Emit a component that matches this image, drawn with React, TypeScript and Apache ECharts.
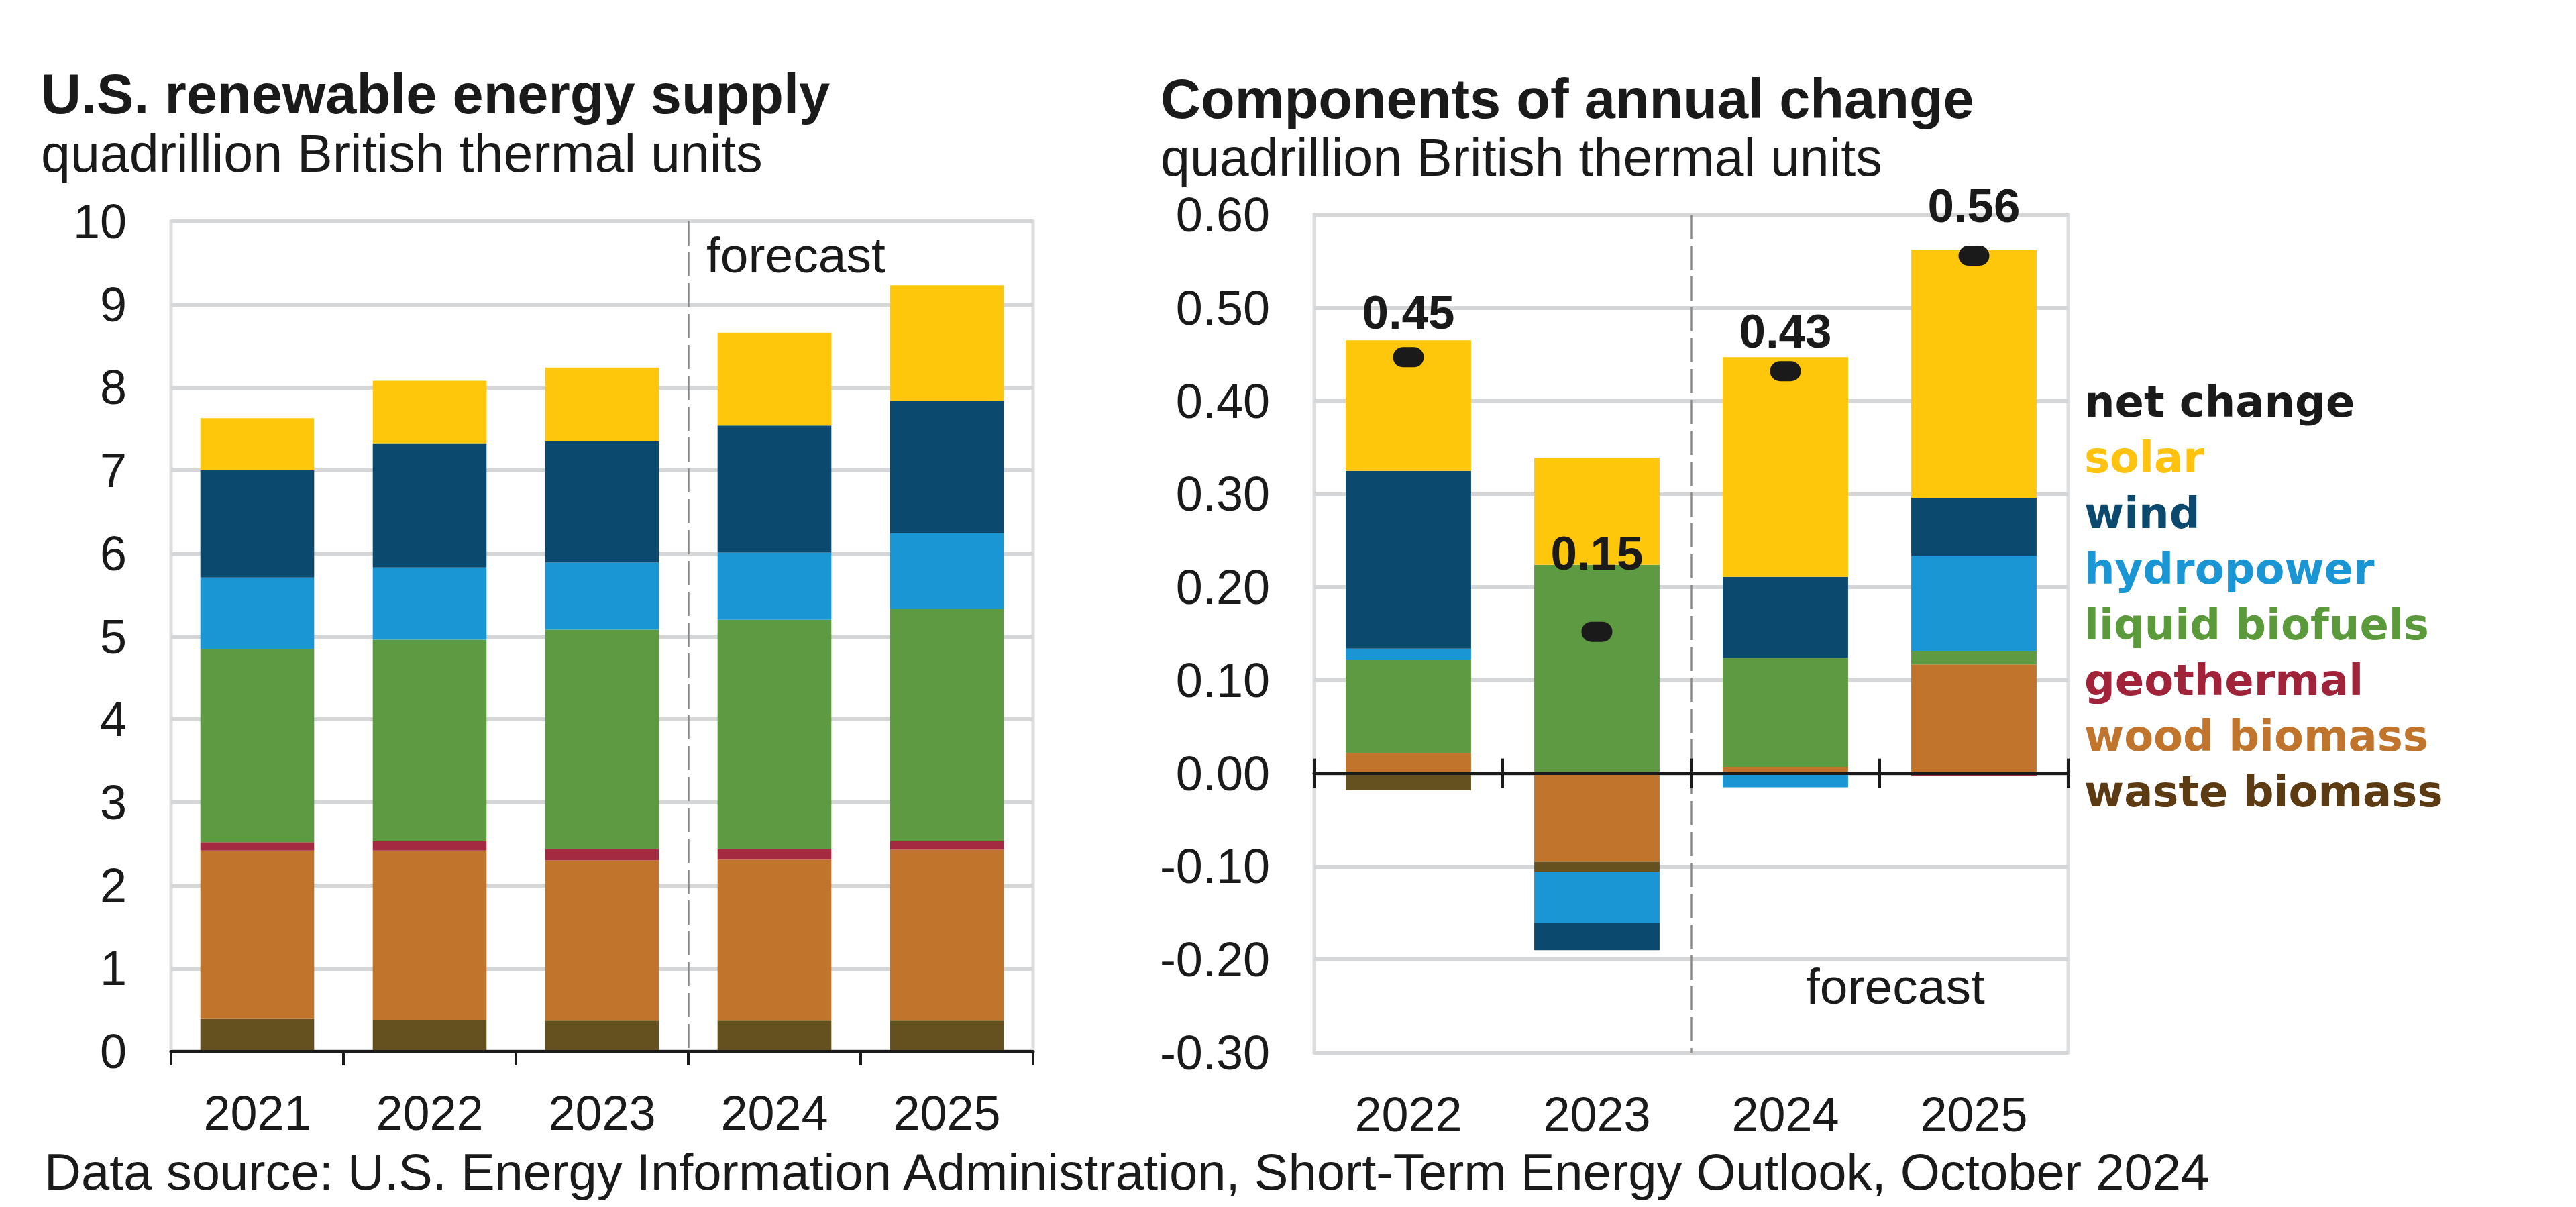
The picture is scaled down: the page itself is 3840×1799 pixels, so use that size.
import React, { useEffect, useRef } from "react";
import * as echarts from "echarts";

// ---------- data ----------
const supplyYears = ["2021", "2022", "2023", "2024", "2025"];
const changeYears = ["2022", "2023", "2024", "2025"];

// U.S. renewable energy supply (quadrillion Btu), stacked bottom -> top
const supplyWaste = [0.39, 0.38, 0.37, 0.37, 0.37];
const supplyWood = [2.03, 2.04, 1.93, 1.94, 2.06];
const supplyGeothermal = [0.1, 0.11, 0.14, 0.13, 0.1];
const supplyBiofuels = [2.33, 2.43, 2.64, 2.76, 2.8];
const supplyHydro = [0.86, 0.87, 0.81, 0.81, 0.91];
const supplyWind = [1.29, 1.49, 1.46, 1.53, 1.6];
const supplySolar = [0.63, 0.76, 0.89, 1.12, 1.39];

// Components of annual change (quadrillion Btu)
const changeWood = [0.022, -0.095, 0.007, 0.117];
const changeWaste = [-0.018, -0.011, 0.0, 0.0];
const changeGeothermal = [0.0, 0.0, 0.0, -0.003];
const changeBiofuels = [0.1, 0.224, 0.117, 0.014];
const changeHydro = [0.012, -0.055, -0.015, 0.103];
const changeWind = [0.191, -0.029, 0.087, 0.062];
const changeSolar = [0.14, 0.115, 0.236, 0.266];
const netChange = [0.447, 0.152, 0.432, 0.556];

// axis ticks
const supplyAxisMin = 0;
const supplyAxisMax = 10;
const supplyAxisStep = 1;
const changeAxisMin = -0.3;
const changeAxisMax = 0.6;
const changeAxisStep = 0.1;

const legendNames = [
  "net change",
  "solar",
  "wind",
  "hydropower",
  "liquid biofuels",
  "geothermal",
  "wood biomass",
  "waste biomass",
];

// ---------- styles ----------
const FONT = "'Liberation Sans', Arial, Helvetica, sans-serif";
const LEGEND_FONT = "'DejaVu Sans', Verdana, sans-serif";
const BAR_COLORS: Record<string, string> = {
  solar: "#FFC70B",
  wind: "#0B4A6E",
  hydropower: "#1A96D4",
  "liquid biofuels": "#5E9A41",
  geothermal: "#A32A40",
  "wood biomass": "#C0742C",
  "waste biomass": "#65501F",
};
const LEGEND_COLORS: Record<string, string> = {
  "net change": "#1a1a1a",
  solar: "#FFC20E",
  wind: "#0B4A6E",
  hydropower: "#1A96D4",
  "liquid biofuels": "#5A9A3A",
  geothermal: "#A0233A",
  "wood biomass": "#C0742C",
  "waste biomass": "#5C3A12",
};
const GRID_GRAY = "#D4D6D8";
const BORDER_GRAY = "#DCDEE0";
const AXIS_BLACK = "#1a1a1a";

export default function App() {
  const ref = useRef<HTMLDivElement>(null);

  useEffect(() => {
    document.body.style.margin = "0";
    if (!ref.current) return;
    const chart = echarts.init(ref.current, undefined, { renderer: "svg" });

    const leftSeries: [string, number[]][] = [
      ["waste biomass", supplyWaste],
      ["wood biomass", supplyWood],
      ["geothermal", supplyGeothermal],
      ["liquid biofuels", supplyBiofuels],
      ["hydropower", supplyHydro],
      ["wind", supplyWind],
      ["solar", supplySolar],
    ];
    const rightSeries: [string, number[]][] = [
      ["wood biomass", changeWood],
      ["waste biomass", changeWaste],
      ["geothermal", changeGeothermal],
      ["liquid biofuels", changeBiofuels],
      ["hydropower", changeHydro],
      ["wind", changeWind],
      ["solar", changeSolar],
    ];

    const axisLabelStyle = { fontFamily: FONT, fontSize: 72, color: "#1a1a1a" };
    const dividerStyle = { color: "#8a8a8a", width: 2.5, type: [36, 10] as any };

    const option: any = {
      animation: false,
      backgroundColor: "#ffffff",
      textStyle: { fontFamily: FONT },
      grid: [
        { left: 255, top: 330, width: 1285, height: 1237, show: true, borderColor: BORDER_GRAY, borderWidth: 5, backgroundColor: "transparent" },
        { left: 1959, top: 320, width: 1124, height: 1249, show: true, borderColor: BORDER_GRAY, borderWidth: 5, backgroundColor: "transparent" },
      ],
      xAxis: [
        {
          type: "category", gridIndex: 0, data: supplyYears, position: "bottom", z: 10,
          axisLine: { show: true, onZero: false, lineStyle: { color: AXIS_BLACK, width: 5 } },
          axisTick: { show: true, length: 21, lineStyle: { color: AXIS_BLACK, width: 4 } },
          axisLabel: { ...axisLabelStyle, margin: 56 },
          splitLine: { show: false },
        },
        {
          type: "value", gridIndex: 0, min: 0, max: supplyYears.length, interval: 3, position: "top",
          axisLine: { show: false }, axisTick: { show: false }, axisLabel: { show: false },
          splitLine: { show: true, showMinLine: false, showMaxLine: false, lineStyle: dividerStyle },
        },
        {
          type: "category", gridIndex: 1, data: changeYears, position: "bottom",
          axisLine: { show: false, onZero: false }, axisTick: { show: false },
          axisLabel: { ...axisLabelStyle, margin: 56 },
          splitLine: { show: false },
        },
        {
          type: "category", gridIndex: 1, data: changeYears, position: "bottom", z: 10,
          axisLine: { show: true, onZero: true, onZeroAxisIndex: 1, lineStyle: { color: AXIS_BLACK, width: 5 } },
          axisTick: { show: true, inside: false, length: 22, lineStyle: { color: AXIS_BLACK, width: 4 } },
          axisLabel: { show: false }, splitLine: { show: false },
        },
        {
          type: "category", gridIndex: 1, data: changeYears, position: "bottom", z: 10,
          axisLine: { show: false, onZero: true, onZeroAxisIndex: 1 },
          axisTick: { show: true, inside: true, length: 22, lineStyle: { color: AXIS_BLACK, width: 4 } },
          axisLabel: { show: false }, splitLine: { show: false },
        },
        {
          type: "value", gridIndex: 1, min: 0, max: changeYears.length, interval: 2, position: "top",
          axisLine: { show: false }, axisTick: { show: false }, axisLabel: { show: false },
          splitLine: { show: true, showMinLine: false, showMaxLine: false, lineStyle: dividerStyle },
        },
      ],
      yAxis: [
        {
          type: "value", gridIndex: 0, min: supplyAxisMin, max: supplyAxisMax, interval: supplyAxisStep,
          axisLine: { show: false }, axisTick: { show: false },
          axisLabel: { ...axisLabelStyle, margin: 66 },
          splitLine: { show: true, lineStyle: { color: GRID_GRAY, width: 6 } },
        },
        {
          type: "value", gridIndex: 1, min: changeAxisMin, max: changeAxisMax, interval: changeAxisStep,
          axisLine: { show: false }, axisTick: { show: false },
          axisLabel: { ...axisLabelStyle, margin: 66, formatter: (v: number) => v.toFixed(2) },
          splitLine: { show: true, lineStyle: { color: GRID_GRAY, width: 6 } },
        },
      ],
      legend: {
        orient: "vertical",
        left: 3096,
        top: 552,
        itemGap: 0,
        itemWidth: 1,
        itemHeight: 10,
        icon: "none",
        selectedMode: false,
        textStyle: { fontFamily: LEGEND_FONT, fontWeight: "bold", fontSize: 64, lineHeight: 83 },
        data: legendNames.map((n) => ({ name: n, icon: "none", textStyle: { color: LEGEND_COLORS[n] } })),
      },
      graphic: [
        { type: "text", x: 61, y: 140, style: { text: "U.S. renewable energy supply", fontFamily: FONT, fontWeight: "bold", fontSize: 83, fill: "#1a1a1a", verticalAlign: "middle", align: "left" } },
        { type: "text", x: 61, y: 228, style: { text: "quadrillion British thermal units", fontFamily: FONT, fontSize: 79, fill: "#1a1a1a", verticalAlign: "middle", align: "left" } },
        { type: "text", x: 1730, y: 147, style: { text: "Components of annual change", fontFamily: FONT, fontWeight: "bold", fontSize: 83, fill: "#1a1a1a", verticalAlign: "middle", align: "left" } },
        { type: "text", x: 1730, y: 234, style: { text: "quadrillion British thermal units", fontFamily: FONT, fontSize: 79, fill: "#1a1a1a", verticalAlign: "middle", align: "left" } },
        { type: "text", x: 1053, y: 380, style: { text: "forecast", fontFamily: FONT, fontSize: 75, fill: "#1a1a1a", verticalAlign: "middle", align: "left" } },
        { type: "text", x: 2692, y: 1470, style: { text: "forecast", fontFamily: FONT, fontSize: 75, fill: "#1a1a1a", verticalAlign: "middle", align: "left" } },
        { type: "text", x: 66, y: 1746, style: { text: "Data source: U.S. Energy Information Administration, Short-Term Energy Outlook, October 2024", fontFamily: FONT, fontSize: 76, fill: "#1a1a1a", verticalAlign: "middle", align: "left" } },
      ],
      series: [
        ...leftSeries.map(([name, data]) => ({
          name, type: "bar", stack: "supply", xAxisIndex: 0, yAxisIndex: 0,
          barWidth: "66%", data, itemStyle: { color: BAR_COLORS[name] },
        })),
        ...rightSeries.map(([name, data]) => ({
          name, type: "bar", stack: "change", xAxisIndex: 2, yAxisIndex: 1,
          barWidth: "66.5%", data, itemStyle: { color: BAR_COLORS[name] },
        })),
        {
          name: "net change",
          type: "scatter",
          xAxisIndex: 2,
          yAxisIndex: 1,
          z: 12,
          symbol: "path://M15,0 L31,0 A15,15 0 0 1 31,30 L15,30 A15,15 0 0 1 15,0 Z",
          symbolKeepAspect: false,
          symbolSize: [46, 30],
          itemStyle: { color: "#1a1a1a", opacity: 1 },
          label: {
            show: true,
            position: "top",
            distance: 16,
            fontFamily: FONT,
            fontWeight: "bold",
            fontSize: 71,
            color: "#1a1a1a",
            opacity: 1,
            formatter: (p: any) => Number(p.value).toFixed(2),
          },
          data: netChange.map((v, i) => ({ value: v, label: { offset: [0, [0, -51, 7, -8][i]] } })),
        },
      ],
    };

    chart.setOption(option);
    return () => chart.dispose();
  }, []);

  return (
    <div
      ref={ref}
      style={{ position: "fixed", left: 0, top: 0, width: "3840px", height: "1799px", background: "#fff" }}
    />
  );
}
